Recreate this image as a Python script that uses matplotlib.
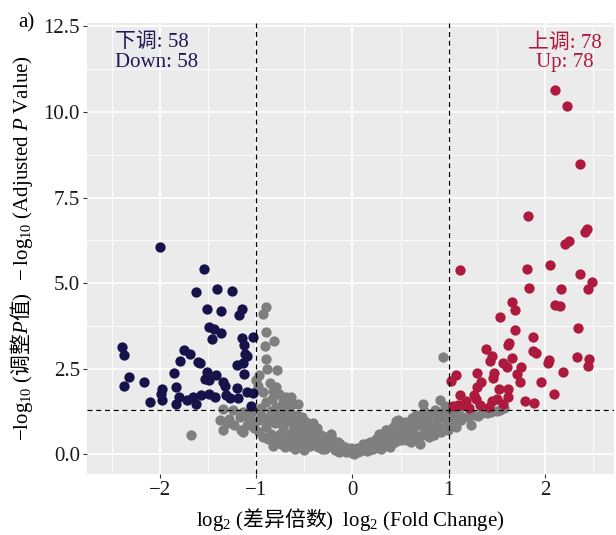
import numpy as np
import matplotlib
matplotlib.use("Agg")
import matplotlib.pyplot as plt
from matplotlib.ticker import MultipleLocator

plt.rcParams['font.family'] = ['Liberation Serif', 'Noto Sans CJK SC', 'DejaVu Sans']
plt.rcParams['mathtext.fontset'] = 'custom'
plt.rcParams['mathtext.rm'] = 'Liberation Serif'
plt.rcParams['mathtext.it'] = 'Liberation Serif:italic'
plt.rcParams['mathtext.sf'] = 'Noto Sans CJK SC'

# down-regulated (log2 fold change, -log10 adjusted p)
down_x = [-2.00, -1.54, -1.63, -1.41, -1.25, -1.51, -1.37, -1.15, -1.18, -1.49,
          -1.44, -1.37, -1.46, -1.15, -1.03, -1.13, -2.39, -2.37, -1.12, -1.10,
          -1.75, -1.69, -1.79, -1.60, -1.58, -1.20, -1.14, -1.13, -1.85, -1.51,
          -1.53, -1.42, -1.49, -2.32, -2.37, -2.17, -1.98, -1.99, -1.98, -2.10,
          -1.83, -1.80, -1.83, -1.72, -1.63, -1.66, -1.57, -1.49, -1.43, -1.34,
          -1.32, -1.31, -1.20, -1.19, -1.10, -1.03, -1.05, -1.27]
down_y = [6.06, 5.41, 4.73, 4.82, 4.78, 4.25, 4.18, 4.25, 4.08, 3.72,
          3.65, 3.53, 3.36, 3.40, 3.41, 3.19, 3.14, 2.89, 2.94, 2.87,
          3.04, 2.94, 2.72, 2.68, 2.66, 2.61, 2.65, 2.33, 2.38, 2.41,
          2.21, 2.31, 2.16, 2.26, 1.99, 2.11, 1.90, 1.75, 1.58, 1.52,
          1.97, 1.68, 1.48, 1.58, 1.46, 1.68, 1.73, 1.75, 1.68, 2.11,
          1.99, 1.73, 1.92, 1.63, 1.82, 1.80, 1.41, 1.65]

# up-regulated
up_x = [2.11, 2.23, 2.36, 1.82, 2.44, 2.42, 2.25, 2.21,
        1.12, 1.81, 2.05, 2.36, 2.49, 2.45, 1.84, 2.17, 1.66, 1.69,
        2.11, 2.16, 1.53, 2.34, 1.69, 1.88, 1.62, 1.63, 1.39, 1.45,
        1.43, 1.88, 1.91, 1.66, 1.57, 1.61, 1.75, 2.04, 2.03, 2.33,
        2.46, 2.45, 2.19, 1.08, 1.02, 1.29, 1.47, 1.46, 1.71, 1.74,
        1.34, 1.29, 1.96, 1.52, 1.62, 1.12, 1.26, 1.28, 1.62, 2.10,
        1.50, 1.79, 1.89, 1.10, 1.16, 1.21, 1.42, 1.57, 1.05, 1.18,
        1.33, 1.45]
up_y = [10.65, 10.18, 8.48, 6.95, 6.57, 6.50, 6.24, 6.13,
        5.38, 5.42, 5.52, 5.27, 5.02, 4.84, 4.85, 4.84, 4.45, 4.22,
        4.35, 4.34, 4.00, 3.68, 3.63, 3.43, 3.19, 3.24, 3.07, 2.87,
        2.71, 3.02, 2.97, 2.80, 2.67, 2.54, 2.54, 2.75, 2.67, 2.83,
        2.77, 2.58, 2.41, 2.32, 2.14, 2.38, 2.38, 2.22, 2.34, 2.11,
        2.11, 1.97, 2.10, 1.91, 1.90, 1.72, 1.72, 1.62, 1.66, 1.75,
        1.60, 1.54, 1.50, 1.44, 1.43, 1.35, 1.38, 1.46, 1.40, 1.55,
        1.45, 1.55]

# not significant
ns_x = [-0.90, -0.93, -0.90, -0.81, -0.91, -0.90, -0.89, -0.78, -0.97, -1.00,
        -0.86, -0.79, -0.93, -0.76, -0.69, -0.90, -0.62, -0.79, -0.95, -0.64,
        -0.57, -0.84, -0.72, -0.98, -0.83, -0.70,
        -1.35, -1.24, -1.14, -1.38, -1.28, -1.17, -1.07, -0.97, -0.86, -0.76,
        -0.65, -1.35, -1.14, -1.02, -0.93, -0.81, -0.69, -0.60, -1.68, -1.23,
        -1.10, -0.90, -0.72, -0.62, -1.16, -1.30, -1.05, -0.95, -0.85, -0.75,
        -0.66, -0.58, -0.88, -0.80, -0.70, -0.62, -0.85, -0.75, -0.66, -0.58,
        -0.97, -0.88, -0.77, -0.65, -0.60, -0.55, -0.55, -0.55,
        -1.02, -0.92, -0.82, -0.68, -0.74, -0.83, -0.70, -0.63, -0.57,
        -0.52, -0.48, -0.45, -0.50, -0.47, -0.52, -0.50, -0.44, -0.41, -0.40,
        -0.38, -0.36, -0.33, -0.30, -0.28, -0.25, -0.22, -0.20, -0.18, -0.15,
        -0.13, -0.10, -0.08, -0.05, -0.01, 0.00, 0.03, 0.06, 0.09, 0.12,
        0.14, 0.17, 0.20, 0.22, 0.25, 0.28, 0.28, 0.31, 0.33, 0.35,
        -0.53, -0.49, -0.43, -0.42, -0.37, -0.35, -0.32, -0.27, -0.24, -0.21,
        -0.17, -0.14, -0.12, -0.07, -0.03, 0.02, 0.05, 0.08, 0.11, 0.15,
        0.18, 0.21, 0.24, 0.27, 0.30, 0.32, 0.36, 0.39, 0.41, 0.44,
        0.46, 0.52, 0.55, 0.58, 0.61, 0.65, 0.68, 0.72, 0.77, 0.80,
        0.85, 0.87, 0.89,
        0.35, 0.38, 0.40, 0.42, 0.45, 0.47, 0.49, 0.50, 0.53, 0.56,
        0.57, 0.60, 0.62, 0.63, 0.66, 0.67, 0.70, 0.70, 0.73, 0.74,
        0.75, 0.76, 0.78, 0.80, 0.82, 0.84, 0.86, 0.88, 0.90, 0.91,
        0.92, 0.94, 0.94, 0.96, 0.99, 0.99, 0.98, 0.97,
        1.03, 1.08, 1.08, 1.13, 1.15, 1.23, 1.20, 1.25, 1.30, 1.35,
        1.40, 1.44, 1.50, 1.53, 1.58, 1.05, 1.10, 1.02]
ns_y = [4.29, 4.11, 3.58, 3.31, 3.16, 2.77, 2.48, 2.46, 2.31, 2.16,
        2.07, 1.97, 1.82, 1.77, 1.68, 1.53, 1.48, 1.38, 1.34, 1.68,
        1.48, 1.60, 1.55, 2.00, 1.85, 1.40,
        1.31, 1.29, 1.24, 1.01, 1.04, 1.09, 1.04, 0.99, 1.09, 1.04,
        1.09, 0.70, 0.65, 0.75, 0.51, 0.36, 0.41, 0.31, 0.55, 0.85,
        0.85, 0.80, 0.80, 0.90, 0.70, 0.90, 1.20, 1.15, 1.25, 1.20,
        1.25, 1.15, 0.95, 0.90, 0.95, 0.70, 0.60, 0.60, 0.55, 0.50,
        0.65, 0.45, 0.45, 0.25, 0.15, 0.55, 0.85, 1.05,
        0.95, 1.05, 1.15, 1.15, 0.30, 0.25, 0.20, 0.45, 0.70,
        1.09, 0.95, 0.80, 0.65, 0.45, 0.30, 0.12, 0.25, 0.90, 0.65,
        0.40, 0.20, 0.56, 0.35, 0.15, 0.45, 0.60, 0.30, 0.12, 0.35,
        0.31, 0.15, 0.22, 0.08, 0.17, 0.04, 0.10, 0.05, 0.15, 0.22,
        0.31, 0.12, 0.25, 0.38, 0.20, 0.60, 0.35, 0.45, 0.25, 0.72,
        0.80, 0.20, 0.55, 0.35, 0.75, 0.50, 0.15, 0.50, 0.25, 0.45,
        0.20, 0.05, 0.25, 0.05, 0.12, 0.00, 0.18, 0.08, 0.30, 0.10,
        0.35, 0.15, 0.45, 0.28, 0.15, 0.55, 0.45, 0.20, 0.70, 0.35,
        0.65, 0.55, 0.95, 0.70, 0.35, 0.85, 1.00, 0.55, 1.10, 0.75,
        0.55, 1.12, 0.80,
        0.70, 0.31, 0.55, 0.80, 0.96, 0.99, 0.60, 0.40, 0.75, 0.41,
        0.90, 0.55, 1.05, 0.70, 1.14, 0.50, 0.31, 0.85, 1.48, 1.25,
        1.05, 0.65, 0.94, 0.51, 1.15, 0.80, 1.30, 1.00, 1.19, 1.58,
        0.65, 1.09, 2.83, 1.40, 0.70, 1.38, 0.90, 1.20,
        1.00, 0.99, 0.80, 0.99, 1.09, 0.85, 1.10, 1.14, 1.12, 1.19,
        1.20, 1.24, 1.25, 1.29, 1.34, 1.20, 1.25, 0.85]

n_down = 58
n_up = 78

fig = plt.figure(figsize=(6.16, 5.35), dpi=100)
ax = fig.add_subplot(111)
fig.subplots_adjust(left=0.141, right=0.997, top=0.957, bottom=0.114)

ax.set_facecolor('#EBEBEB')
ax.set_axisbelow(True)
ax.grid(which='major', color='white', lw=1.2)
ax.grid(which='minor', color='white', lw=0.6)
for s in ax.spines.values():
    s.set_visible(False)

ax.scatter(ns_x, ns_y, s=55, color='#7F7F80', lw=0, zorder=2)
ax.scatter(down_x, down_y, s=55, color='#15134A', lw=0, zorder=3)
ax.scatter(up_x, up_y, s=55, color='#AE1A3E', lw=0, zorder=3)

ax.axvline(-1, color='black', lw=0.9, ls=(0, (4, 3)), zorder=4)
ax.axvline(1, color='black', lw=0.9, ls=(0, (4, 3)), zorder=4)
ax.axhline(-np.log10(0.05), color='black', lw=0.9, ls=(0, (4, 3)), zorder=4)

ax.set_xlim(-2.76, 2.72)
ax.set_ylim(-0.58, 12.6)
ax.xaxis.set_major_locator(MultipleLocator(1))
ax.xaxis.set_minor_locator(MultipleLocator(0.5))
ax.yaxis.set_major_locator(MultipleLocator(2.5))
ax.yaxis.set_minor_locator(MultipleLocator(1.25))
ax.set_yticks([0, 2.5, 5, 7.5, 10, 12.5])
ax.set_yticklabels(['0.0', '2.5', '5.0', '7.5', '10.0', '12.5'])
ax.set_xticks([-2, -1, 0, 1, 2])
ax.set_xticklabels(['\u22122', '\u22121', '0', '1', '2'])
ax.tick_params(which='major', length=3, width=0.8, color='#333333',
               labelsize=15, labelcolor='#1a1a1a', pad=2)
ax.tick_params(which='minor', length=0)

ax.set_xlabel(r'$\mathrm{log}_{2}\ \mathrm{(}\mathsf{差异倍数}\mathrm{)}\ \ \mathrm{log}_{2}\ \mathrm{(Fold\ Change)}$',
              fontsize=15, labelpad=4)
ax.set_ylabel(r'$-\mathrm{log}_{10}\ \mathrm{(}\mathsf{调整}\mathit{P}\mathsf{值}\mathrm{)}\ \ -\mathrm{log}_{10}\ \mathrm{(Adjusted\ }\mathit{P}\mathrm{\ Value)}$',
              fontsize=15, labelpad=6)

ax.text(-2.47, 12.3, f'下调: {n_down}\nDown: {n_down}', color='#1E1B55',
        fontsize=15, ha='left', va='top', linespacing=1.05)
ax.text(2.21, 12.3, f'上调: {n_up}\nUp: {n_up}', color='#AE1A3E',
        fontsize=15, ha='center', va='top', linespacing=1.05)

fig.text(0.03, 0.975, 'a)', fontsize=15, ha='left', va='top')

fig.savefig('out.png', dpi=100)
